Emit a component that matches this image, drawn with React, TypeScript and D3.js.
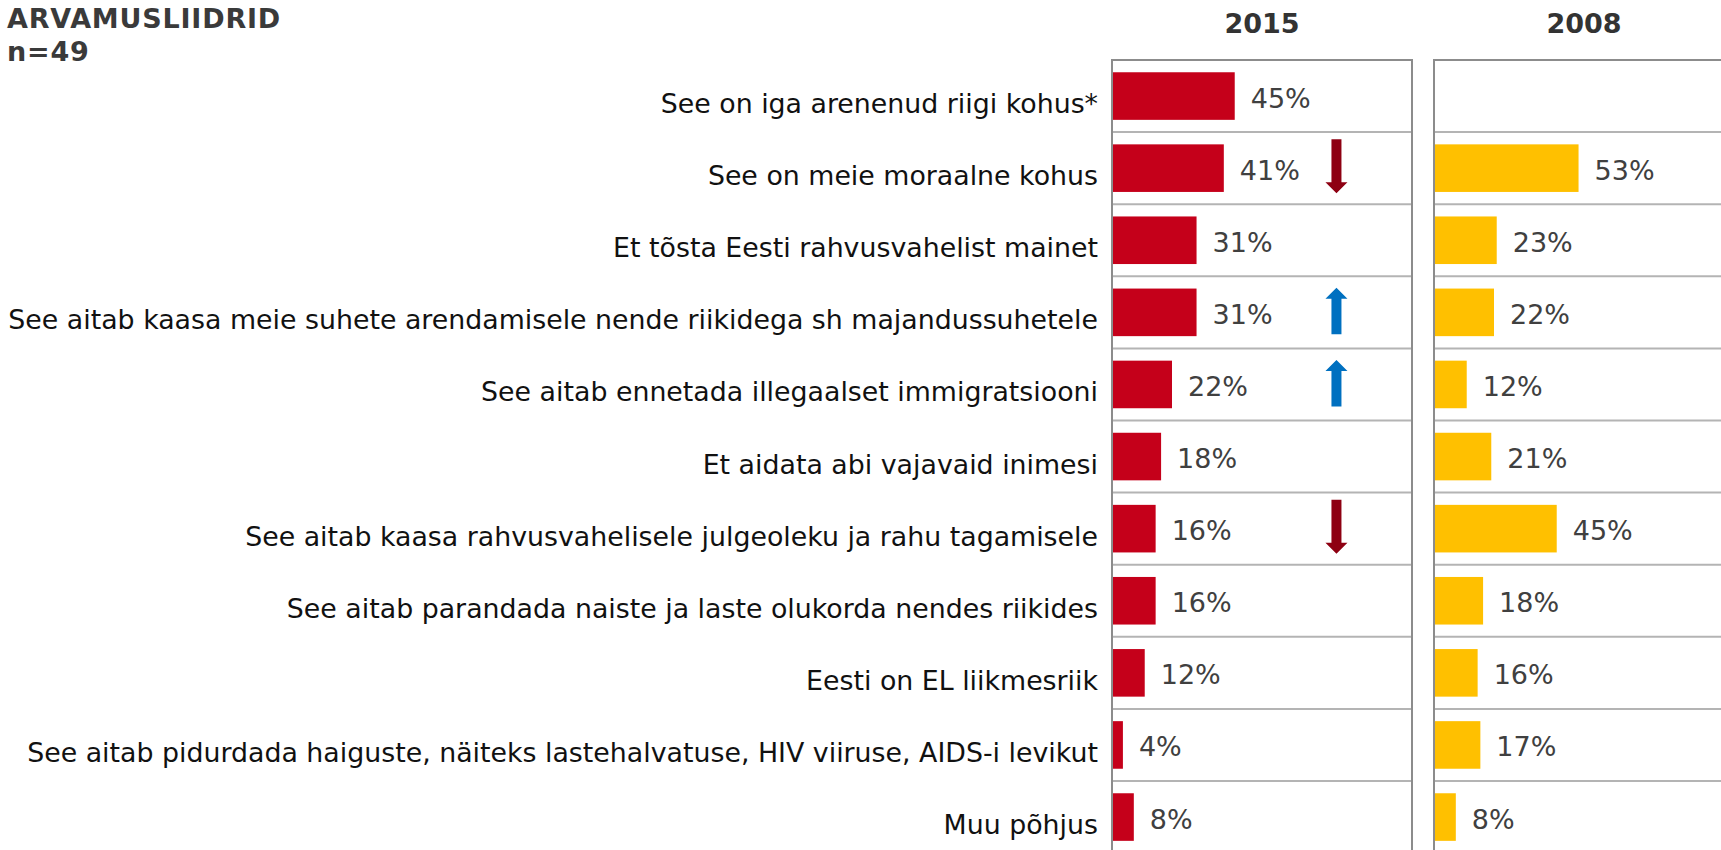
import React from "react";
import * as d3 from "d3";

const title = "ARVAMUSLIIDRID";
const subtitle = "n=49";
const years = ["2015", "2008"];

const categories = [
  "See on iga arenenud riigi kohus*",
  "See on meie moraalne kohus",
  "Et tõsta Eesti rahvusvahelist mainet",
  "See aitab kaasa meie suhete arendamisele nende riikidega sh majandussuhetele",
  "See aitab ennetada illegaalset immigratsiooni",
  "Et aidata abi vajavaid inimesi",
  "See aitab kaasa rahvusvahelisele julgeoleku ja rahu tagamisele",
  "See aitab parandada naiste ja laste olukorda nendes riikides",
  "Eesti on EL liikmesriik",
  "See aitab pidurdada haiguste, näiteks lastehalvatuse, HIV viiruse, AIDS-i levikut",
  "Muu põhjus",
];

const values2015: (number | null)[] = [45, 41, 31, 31, 22, 18, 16, 16, 12, 4, 8];
const values2008: (number | null)[] = [null, 53, 23, 22, 12, 21, 45, 18, 16, 17, 8];

// change arrows: category index and direction
const arrowRows = [1, 3, 4, 6];
const arrowDirs = ["down", "up", "up", "down"];

const FONT = "'DejaVu Sans', Verdana, sans-serif";
const RED = "#C5001A";
const YELLOW = "#FFC000";
const DOWN = "#8E0012";
const UP = "#0070C0";

export default function App() {
  const W = 1721;
  const H = 850;
  const top = 60;
  const step = 72.1;
  const y = d3
    .scaleBand<string>()
    .domain(categories)
    .range([top, top + step * categories.length])
    .paddingInner(0.34)
    .paddingOuter(0.17);

  const panelW = 300;
  const panels = [
    { x0: 1112, values: values2015, color: RED, year: years[0] },
    { x0: 1434, values: values2008, color: YELLOW, year: years[1] },
  ];
  const x = d3.scaleLinear().domain([0, 110]).range([0, panelW]);
  const bottom = top + step * categories.length;
  const bw = y.bandwidth();
  const rowCenter = (i: number) => (y(categories[i]) as number) + bw / 2;

  const arrowX = panels[0].x0 + x(82.3);

  return (
    <svg
      width={W}
      height={H}
      style={{ position: "fixed", left: 0, top: 0, background: "#fff" }}
      fontFamily={FONT}
    >
      <rect x={0} y={0} width={W} height={H} fill="#fff" />
      <text x={7} y={28} fontSize={27} fontWeight="bold" fill="#3a3a3a" letterSpacing={0.8}>
        {title}
      </text>
      <text x={7} y={60.5} fontSize={27} fontWeight="bold" fill="#3a3a3a" letterSpacing={0.8}>
        {subtitle}
      </text>

      {categories.map((c, i) => (
        <text
          key={c}
          x={1098}
          y={rowCenter(i) + 17}
          fontSize={26.8}
          textAnchor="end"
          fill="#111"
        >
          {c}
        </text>
      ))}

      {panels.map((p) => (
        <g key={p.year}>
          <text
            x={p.x0 + panelW / 2}
            y={33}
            fontSize={27}
            fontWeight="bold"
            textAnchor="middle"
            fill="#333"
          >
            {p.year}
          </text>
          {categories.slice(1).map((c, i) => (
            <line
              key={c}
              x1={p.x0}
              x2={p.x0 + panelW}
              y1={top + step * (i + 1)}
              y2={top + step * (i + 1)}
              stroke="#B4B4B4"
              strokeWidth={2}
            />
          ))}
          {p.values.map((v, i) =>
            v == null ? null : (
              <g key={i}>
                <rect
                  x={p.x0}
                  y={y(categories[i])}
                  width={x(v)}
                  height={bw}
                  fill={p.color}
                />
                <text
                  x={p.x0 + x(v) + 16}
                  y={rowCenter(i) + 11.5}
                  fontSize={27}
                  fill="#404040"
                >
                  {v}%
                </text>
              </g>
            )
          )}
          <path
            d={`M${p.x0},${bottom + 10}V${top}H${p.x0 + panelW}V${bottom + 10}`}
            fill="none"
            stroke="#8C8C8C"
            strokeWidth={2}
          />
        </g>
      ))}

      {arrowRows.map((r, k) => {
        const cy = rowCenter(r);
        const dir = arrowDirs[k];
        const shaft = 5;
        const head = 11;
        const hh = 11;
        let d: string;
        if (dir === "down") {
          const t = cy - 29;
          const b = cy + 25;
          d = `M${arrowX - shaft},${t}H${arrowX + shaft}V${b - hh}H${arrowX + head}L${arrowX},${b}L${arrowX - head},${b - hh}H${arrowX - shaft}Z`;
        } else {
          const t = cy - 24.5;
          const b = cy + 22;
          d = `M${arrowX - shaft},${b}H${arrowX + shaft}V${t + hh}H${arrowX + head}L${arrowX},${t}L${arrowX - head},${t + hh}H${arrowX - shaft}Z`;
        }
        return <path key={r} d={d} fill={dir === "down" ? DOWN : UP} />;
      })}
    </svg>
  );
}
